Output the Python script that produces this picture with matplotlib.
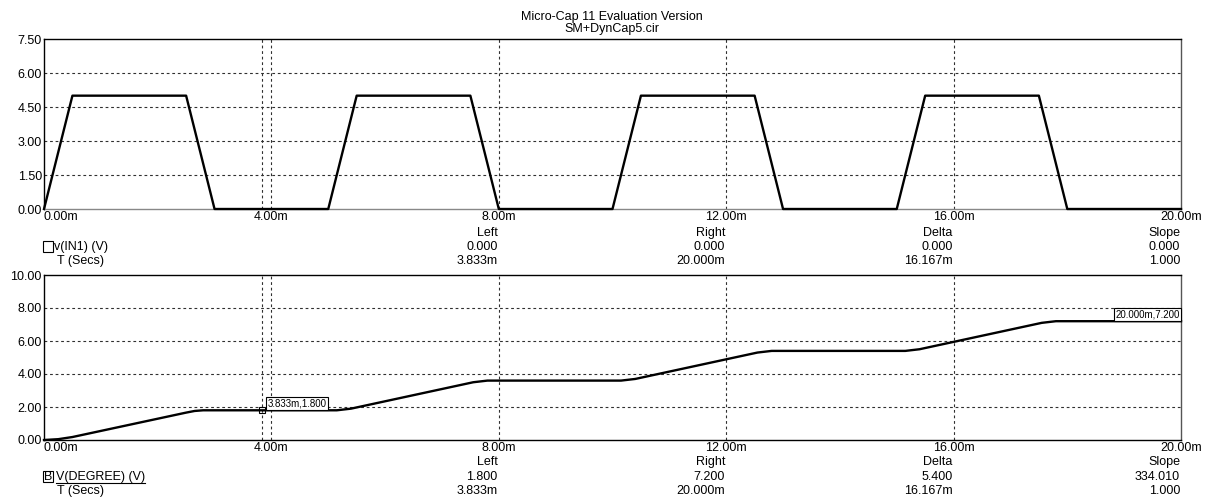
import matplotlib
matplotlib.use("Agg")
import matplotlib.pyplot as plt
from matplotlib.lines import Line2D
from matplotlib.patches import Rectangle

# ---------------- data ----------------
title_lines = ["Micro-Cap 11 Evaluation Version", "SM+DynCap5.cir"]

t_in = [0.0, 0.5, 2.5, 3.0, 5.0, 5.5, 7.5, 8.0, 10.0, 10.5, 12.5, 13.0,
        15.0, 15.5, 17.5, 18.0, 20.0]          # ms
v_in = [0, 5, 5, 0, 0, 5, 5, 0, 0, 5, 5, 0, 0, 5, 5, 0, 0]

t_deg = [0.0, 0.25, 0.5, 2.5, 2.65, 2.8,
         5.15, 5.4, 7.55, 7.8,
         10.15, 10.4, 12.55, 12.8,
         15.15, 15.4, 17.55, 17.8, 20.0]     # ms
v_deg = [0.0, 0.05, 0.18, 1.66, 1.76, 1.80,
         1.80, 1.90, 3.50, 3.60,
         3.60, 3.70, 5.30, 5.40,
         5.40, 5.50, 7.10, 7.20, 7.20]

x_ticks = [0, 4, 8, 12, 16, 20]
x_ticklabels = ["0.00m", "4.00m", "8.00m", "12.00m", "16.00m", "20.00m"]
top_yticks = [0, 1.5, 3.0, 4.5, 6.0, 7.5]
bot_yticks = [0, 2, 4, 6, 8, 10]

cursor_left = 3.833
cursor_right = 20.0

col_heads = ["Left", "Right", "Delta", "Slope"]
col_ticks = [8, 12, 16, 20]
top_row_y = ["0.000", "0.000", "0.000", "0.000"]
top_row_x = ["3.833m", "20.000m", "16.167m", "1.000"]
bot_row_y = ["1.800", "7.200", "5.400", "334.010"]
bot_row_x = ["3.833m", "20.000m", "16.167m", "1.000"]

top_trace = "v(IN1) (V)"
bot_trace = "V(DEGREE) (V)"
x_trace = "T (Secs)"
label_left = "3.833m,1.800"
label_right = "20.000m,7.200"

# ---------------- layout ----------------
W, H = 1207, 497
plt.rcParams['font.family'] = ['Liberation Sans', 'DejaVu Sans']
FS = 9
fig = plt.figure(figsize=(W / 100, H / 100), dpi=100)

def fx(x):
    return x / W

def fy(y):
    return 1 - y / H

L, R = 44, 1181
ax1 = fig.add_axes([fx(L), fy(209), (R - L) / W, (209 - 39) / H])
ax2 = fig.add_axes([fx(L), fy(440), (R - L) / W, (440 - 275) / H])

grid_kw = dict(color="#303030", lw=0.8, ls=(0, (2.5, 2.5)))

def style(ax, yticks, ylim):
    ax.set_xlim(0, 20)
    ax.set_ylim(*ylim)
    ax.set_yticks(yticks)
    ax.set_yticklabels(["%.2f" % v for v in yticks], fontsize=FS)
    ax.set_xticks(x_ticks)
    ax.set_xticklabels(x_ticklabels, fontsize=FS)
    ax.tick_params(length=0, pad=1.5)
    ax.tick_params(axis="x", pad=1.5)
    labs = ax.get_xticklabels()
    labs[0].set_horizontalalignment("left")
    labs[-1].set_horizontalalignment("center")
    for v in yticks[1:-1]:
        ax.axhline(v, **grid_kw, zorder=1)
    for v in x_ticks[1:-1]:
        ax.axvline(v, **grid_kw, zorder=1)
    ax.axvline(cursor_left, **grid_kw, zorder=1)
    for s in ax.spines.values():
        s.set_linewidth(1.0)
        s.set_color("black")

style(ax1, top_yticks, (0, 7.5))
style(ax2, bot_yticks, (0, 10))
ax1.spines["bottom"].set_color("#888888")
ax1.spines["right"].set_color("#555555")
ax2.spines["right"].set_color("#555555")

ax1.plot(t_in, v_in, color="black", lw=1.7, zorder=3, clip_on=False)
ax2.plot(t_deg, v_deg, color="black", lw=1.7, zorder=3, clip_on=False)

# cursor marker + labels
ax2.plot([cursor_left], [v_deg[5]], marker="s", ms=5, mfc="none", mec="black",
         mew=0.8, zorder=4)
ax2.annotate(label_left, xy=(cursor_left, 1.8), xytext=(6, 7),
             textcoords="offset pixels", fontsize=7, va="center", ha="left",
             bbox=dict(boxstyle="square,pad=0.15", fc="white", ec="black", lw=0.8),
             zorder=5)
ax2.annotate(label_right, xy=(cursor_right, 7.2), xytext=(-1, 7),
             textcoords="offset pixels", fontsize=7, va="center", ha="right",
             bbox=dict(boxstyle="square,pad=0.15", fc="white", ec="black", lw=0.8),
             zorder=5)

# title
fig.text(fx(612), fy(17), title_lines[0], fontsize=FS, ha="center", va="center")
fig.text(fx(612), fy(29), title_lines[1], fontsize=FS, ha="center", va="center")

def tick_px(t):
    return L + (R - L) * t / 20.0

# info rows
def info_block(ys, vals_y, vals_x):
    for i, t in enumerate(col_ticks):
        xp = tick_px(t) - 1
        fig.text(fx(xp), fy(ys[0]), col_heads[i], fontsize=FS, ha="right", va="center")
        fig.text(fx(xp), fy(ys[1]), vals_y[i], fontsize=FS, ha="right", va="center")
        fig.text(fx(xp), fy(ys[2]), vals_x[i], fontsize=FS, ha="right", va="center")

info_block([233, 247, 261], top_row_y, top_row_x)
info_block([462, 477, 491], bot_row_y, bot_row_x)

# legends
fig.patches.append(Rectangle((fx(43), fy(252)), 10 / W, 11 / H, transform=fig.transFigure,
                             fill=False, ec="black", lw=0.8))
fig.text(fx(54), fy(247), top_trace, fontsize=FS, ha="left", va="center")
fig.text(fx(57), fy(261), x_trace, fontsize=FS, ha="left", va="center")

fig.patches.append(Rectangle((fx(43), fy(482)), 10 / W, 11 / H, transform=fig.transFigure,
                             fill=False, ec="black", lw=0.8))
fig.text(fx(48.5), fy(477), "B", fontsize=FS, ha="center", va="center")
t_b = fig.text(fx(56), fy(477), bot_trace, fontsize=FS, ha="left", va="center")
fig.canvas.draw()
bb = t_b.get_window_extent()
fig.lines.append(Line2D([bb.x0 / W, bb.x1 / W], [fy(482.5), fy(482.5)],
                        transform=fig.transFigure, color="black", lw=0.8))
fig.text(fx(57), fy(491), x_trace, fontsize=FS, ha="left", va="center")

fig.savefig("out.png", dpi=100, facecolor="white")
